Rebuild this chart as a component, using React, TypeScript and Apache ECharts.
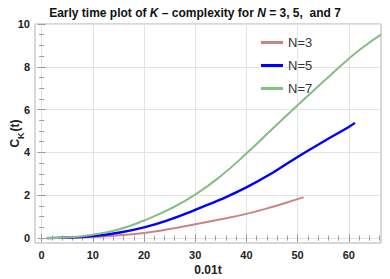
import React, { useEffect, useRef } from "react";
import * as echarts from "echarts";

const seriesNames = ["N=3", "N=5", "N=7"];
const tN3: number[] = [1, 5, 10, 15, 20, 25, 30, 35, 40, 45, 50, 51.2];
const cN3: number[] = [0, 0.01, 0.05, 0.13, 0.24, 0.42, 0.65, 0.88, 1.13, 1.45, 1.82, 1.9];
const tN5: number[] = [1, 5, 10, 15, 20, 25, 30, 35, 40, 45, 50, 55, 60, 61.2];
const cN5: number[] = [0, 0.02, 0.09, 0.25, 0.5, 0.86, 1.32, 1.81, 2.37, 3.03, 3.79, 4.5, 5.19, 5.38];
const tN7: number[] = [1, 5, 10, 15, 20, 25, 30, 35, 40, 45, 50, 55, 60, 63, 66.3];
const cN7: number[] = [0, 0.03, 0.16, 0.4, 0.82, 1.35, 2.03, 2.9, 3.95, 5.08, 6.2, 7.3, 8.38, 8.95, 9.5];

const xMajor: number[] = [0, 10, 20, 30, 40, 50, 60];
const xMinor: number[] = [2, 4, 6, 8, 12, 14, 16, 18, 22, 24, 26, 28, 32, 34, 36, 38, 42, 44, 46, 48, 52, 54, 56, 58, 62, 64, 66];
const yMajor: number[] = [0, 2, 4, 6, 8, 10];
const yMinor: number[] = [0.5, 1, 1.5, 2.5, 3, 3.5, 4.5, 5, 5.5, 6.5, 7, 7.5, 8.5, 9, 9.5];

const X_MIN = -1.3;
const X_MAX = 66.3;
const Y_MIN = -0.23;
const Y_MAX = 10;

const colors = ["#c98585", "#0000ff", "#85bd85"];
const tickColor = "#9a9a9a";
const FONT = "Liberation Sans, Arial, sans-serif";

function zip(t: number[], c: number[]) {
  return t.map((v, i) => [v, c[i]]);
}

export default function App() {
  const ref = useRef<HTMLDivElement>(null);
  useEffect(() => {
    if (!ref.current) return;
    const chart = echarts.init(ref.current, undefined, { renderer: "svg" });
    const baseX = (pos: "bottom" | "top", vals: number[], len: number, labels: boolean, split: boolean) => ({
      type: "value",
      position: pos,
      min: X_MIN,
      max: X_MAX,
      axisLine: { show: false },
      axisTick: { show: true, inside: true, length: len, customValues: vals, lineStyle: { color: tickColor, width: 1 } },
      axisLabel: labels
        ? { show: true, customValues: xMajor, fontWeight: "bold", fontSize: 11, color: "#222", margin: 6, fontFamily: FONT }
        : { show: false },
      splitLine: { show: split, lineStyle: { color: "#e4e4e4", width: 1 } },
      name: labels && pos === "bottom" ? "0.01t" : "",
      nameLocation: "middle",
      nameGap: 21,
      nameMoveOverlap: false,
      nameTextStyle: { fontWeight: "bold", fontSize: 12, color: "#222", fontFamily: FONT },
    });
    const baseY = (pos: "left" | "right", vals: number[], len: number, labels: boolean, split: boolean) => ({
      type: "value",
      position: pos,
      min: Y_MIN,
      max: Y_MAX,
      axisLine: { show: false },
      axisTick: { show: true, inside: true, length: len, customValues: vals, lineStyle: { color: tickColor, width: 1 } },
      axisLabel: labels
        ? { show: true, customValues: yMajor, fontWeight: "bold", fontSize: 11, color: "#222", margin: 5, fontFamily: FONT }
        : { show: false },
      splitLine: { show: split, lineStyle: { color: "#e4e4e4", width: 1 } },
      name: labels && pos === "left" ? "C{s|K}(t)" : "",
      nameLocation: "middle",
      nameGap: 14,
      nameMoveOverlap: false,
      nameRotate: 90,
      nameTextStyle: {
        fontSize: 12,
        fontWeight: "bold",
        color: "#222",
        fontFamily: FONT,
        rich: { s: { fontSize: 9, fontWeight: "bold", color: "#222", verticalAlign: "bottom", padding: [0, 1, -4, 0] } },
      },
    });
    chart.setOption({
      animation: false,
      backgroundColor: "#fff",
      title: {
        text: "{b|Early time plot of }{i|K}{b| – complexity for }{i|N}{b| = 3, 5,  and 7}",
        left: "center",
        top: 2,
        textStyle: {
          rich: {
            b: { fontSize: 12, fontWeight: "bold", color: "#111", fontFamily: FONT },
            i: { fontSize: 12, fontWeight: "bold", fontStyle: "italic", color: "#111", fontFamily: FONT },
          },
        },
      },
      grid: {
        left: 35,
        right: 9,
        top: 24,
        bottom: 36,
        outerBoundsMode: "none",
        containLabel: false,
        show: true,
        borderColor: "#b0b0b0",
        borderWidth: 1,
        backgroundColor: "transparent",
      },
      legend: {
        orient: "vertical",
        left: 256,
        top: 31,
        itemWidth: 22,
        itemHeight: 3,
        itemGap: 10,
        icon: "rect",
        textStyle: { fontSize: 13, color: "#333", fontFamily: FONT },
        data: seriesNames,
      },
      xAxis: [
        baseX("bottom", xMajor, 4, true, true),
        baseX("bottom", xMinor, 2.5, false, false),
        baseX("top", xMajor, 4, false, false),
        baseX("top", xMinor, 2.5, false, false),
      ],
      yAxis: [
        baseY("left", yMajor, 4, true, true),
        baseY("left", yMinor, 2.5, false, false),
        baseY("right", yMajor, 4, false, false),
        baseY("right", yMinor, 2.5, false, false),
      ],
      series: [
        { name: seriesNames[0], type: "line", data: zip(tN3, cN3), smooth: 0.5, showSymbol: false, lineStyle: { color: colors[0], width: 2 }, itemStyle: { color: colors[0] } },
        { name: seriesNames[1], type: "line", data: zip(tN5, cN5), smooth: 0.5, showSymbol: false, lineStyle: { color: colors[1], width: 2.4 }, itemStyle: { color: colors[1] } },
        { name: seriesNames[2], type: "line", data: zip(tN7, cN7), smooth: 0.5, showSymbol: false, lineStyle: { color: colors[2], width: 2 }, itemStyle: { color: colors[2] } },
      ],
    });
    return () => chart.dispose();
  }, []);
  return <div ref={ref} style={{ width: 390, height: 279, position: "absolute", left: 0, top: 0 }} />;
}
